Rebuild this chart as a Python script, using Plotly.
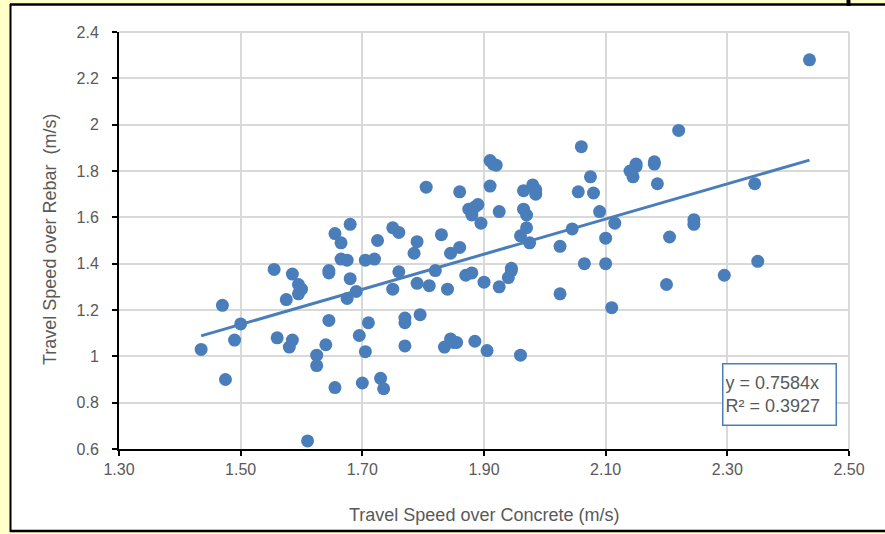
import plotly.graph_objects as go

concrete = [1.435, 1.47, 1.475, 1.49, 1.50, 1.555, 1.56, 1.575, 1.58, 1.585,
            1.585, 1.595, 1.595, 1.60, 1.61, 1.625, 1.625, 1.64, 1.645, 1.645,
            1.645, 1.655, 1.655, 1.665, 1.665, 1.675, 1.675, 1.68, 1.68, 1.69,
            1.695, 1.70, 1.705, 1.705, 1.71, 1.72, 1.725, 1.73, 1.735, 1.75,
            1.75, 1.76, 1.76, 1.77, 1.77, 1.77, 1.785, 1.79, 1.79, 1.795,
            1.805, 1.81, 1.82, 1.83, 1.835, 1.84, 1.845, 1.845, 1.85, 1.855,
            1.86, 1.86, 1.87, 1.875, 1.88, 1.88, 1.885, 1.885, 1.89, 1.895,
            1.90, 1.905, 1.91, 1.91, 1.915, 1.92, 1.925, 1.925, 1.94, 1.945,
            1.945, 1.96, 1.96, 1.965, 1.965, 1.97, 1.97, 1.975, 1.98, 1.985,
            1.985, 2.025, 2.025, 2.045, 2.055, 2.06, 2.065, 2.075, 2.08, 2.09,
            2.10, 2.10, 2.11, 2.115, 2.14, 2.145, 2.15, 2.15, 2.18, 2.18,
            2.185, 2.20, 2.205, 2.22, 2.245, 2.245, 2.295, 2.345, 2.35, 2.435]
rebar = [1.03, 1.22, 0.90, 1.07, 1.14, 1.375, 1.08, 1.245, 1.04, 1.07,
         1.355, 1.31, 1.27, 1.29, 0.635, 0.96, 1.005, 1.05, 1.155, 1.37,
         1.36, 1.53, 0.865, 1.42, 1.49, 1.25, 1.415, 1.335, 1.57, 1.28,
         1.09, 0.885, 1.415, 1.02, 1.145, 1.42, 1.50, 0.905, 0.86, 1.29,
         1.555, 1.535, 1.365, 1.165, 1.145, 1.045, 1.445, 1.495, 1.315, 1.18,
         1.73, 1.305, 1.37, 1.525, 1.04, 1.29, 1.445, 1.075, 1.06, 1.06,
         1.71, 1.47, 1.35, 1.635, 1.61, 1.36, 1.065, 1.645, 1.655, 1.575,
         1.32, 1.025, 1.735, 1.845, 1.83, 1.825, 1.625, 1.30, 1.34, 1.37,
         1.38, 1.005, 1.52, 1.715, 1.635, 1.555, 1.61, 1.49, 1.74, 1.70,
         1.72, 1.27, 1.475, 1.55, 1.71, 1.905, 1.40, 1.775, 1.705, 1.625,
         1.51, 1.40, 1.21, 1.575, 1.80, 1.775, 1.83, 1.82, 1.84, 1.83,
         1.745, 1.31, 1.515, 1.975, 1.59, 1.57, 1.35, 1.745, 1.41, 2.28]

slope = 0.7584
r2 = 0.3927
trend_x = [min(concrete), max(concrete)]
trend_y = [slope * v for v in trend_x]

x_ticks = [1.30, 1.50, 1.70, 1.90, 2.10, 2.30, 2.50]
x_labels = ["1.30", "1.50", "1.70", "1.90", "2.10", "2.30", "2.50"]
y_ticks = [2.4, 2.2, 2.0, 1.8, 1.6, 1.4, 1.2, 1.0, 0.8, 0.6]
y_labels = ["2.4", "2.2", "2", "1.8", "1.6", "1.4", "1.2", "1", "0.8", "0.6"]

BLUE = "#4a7ebb"
GRAY = "#595959"
FONT = "Liberation Sans Narrow, Liberation Sans, Arial"

W, H = 885, 534
L, R, T, B = 119, 36, 32, 85
PW, PH = W - L - R, H - T - B

def px(xp):
    return (xp - L) / PW

def py(yp):
    return (H - B - yp) / PH

fig = go.Figure()
fig.add_trace(go.Scatter(x=trend_x, y=trend_y, mode="lines",
                         line=dict(color=BLUE, width=3), hoverinfo="skip",
                         showlegend=False))
fig.add_trace(go.Scatter(x=concrete, y=rebar, mode="markers",
                         marker=dict(color=BLUE, size=13, line=dict(width=0)),
                         showlegend=False))

shapes = [
    dict(type="rect", xref="paper", yref="paper", x0=px(11), x1=px(890),
         y0=py(532), y1=py(5), fillcolor="white", line=dict(width=0), layer="below"),
    dict(type="line", xref="paper", yref="paper", x0=px(10), x1=px(890),
         y0=py(4.5), y1=py(4.5), line=dict(color="black", width=2.5)),
    dict(type="line", xref="paper", yref="paper", x0=px(10.5), x1=px(10.5),
         y0=py(532), y1=py(4), line=dict(color="black", width=2)),
    dict(type="line", xref="paper", yref="paper", x0=px(10), x1=px(890),
         y0=py(531), y1=py(531), line=dict(color="black", width=2.5)),
    dict(type="line", xref="paper", yref="paper", x0=px(848.5), x1=px(848.5),
         y0=py(6), y1=py(0), line=dict(color="black", width=4)),
    dict(type="line", xref="paper", yref="paper", x0=0, x1=1, y0=1, y1=1,
         line=dict(color="#d9d9d9", width=2)),
    dict(type="line", xref="paper", yref="paper", x0=1, x1=1, y0=0, y1=1,
         line=dict(color="#d9d9d9", width=2)),
]

annotations = [
    dict(xref="paper", yref="paper", x=px(484), y=py(515), text="Travel Speed over Concrete (m/s)",
         showarrow=False, font=dict(family=FONT, size=18, color=GRAY), xanchor="center", yanchor="middle"),
    dict(xref="paper", yref="paper", x=px(50), y=py(240), text="Travel Speed over Rebar  (m/s)",
         showarrow=False, textangle=-90, font=dict(family=FONT, size=18, color=GRAY),
         xanchor="center", yanchor="middle"),
    dict(xref="paper", yref="paper", x=px(722), y=py(363), xanchor="left", yanchor="top",
         text=f"y = {slope}x<br>R² = {r2}", align="left", showarrow=False,
         font=dict(family=FONT, size=18, color=GRAY), bgcolor="white",
         bordercolor=BLUE, borderwidth=1.5, width=108, height=56, borderpad=2),
]

fig.update_layout(
    width=W, height=H,
    margin=dict(l=L, r=R, t=T, b=B),
    paper_bgcolor="#ffffc8", plot_bgcolor="white",
    shapes=shapes, annotations=annotations,
    font=dict(family=FONT, color=GRAY),
    xaxis=dict(range=[1.30, 2.50], tickvals=x_ticks, ticktext=x_labels,
               showgrid=True, gridcolor="#d9d9d9", gridwidth=1.5, zeroline=False,
               showline=True, linecolor="black", linewidth=2,
               ticks="outside", ticklen=5, tickwidth=2, tickcolor="black",
               tickfont=dict(family=FONT, size=16, color=GRAY), ticklabelstandoff=0),
    yaxis=dict(range=[0.6, 2.4], tickvals=y_ticks, ticktext=y_labels,
               showgrid=True, gridcolor="#d9d9d9", gridwidth=1.5, zeroline=False,
               showline=True, linecolor="black", linewidth=2,
               ticks="outside", ticklen=5, tickwidth=2, tickcolor="black",
               tickfont=dict(family=FONT, size=16, color=GRAY), ticklabelstandoff=10),
)

fig.write_html("out.html")
